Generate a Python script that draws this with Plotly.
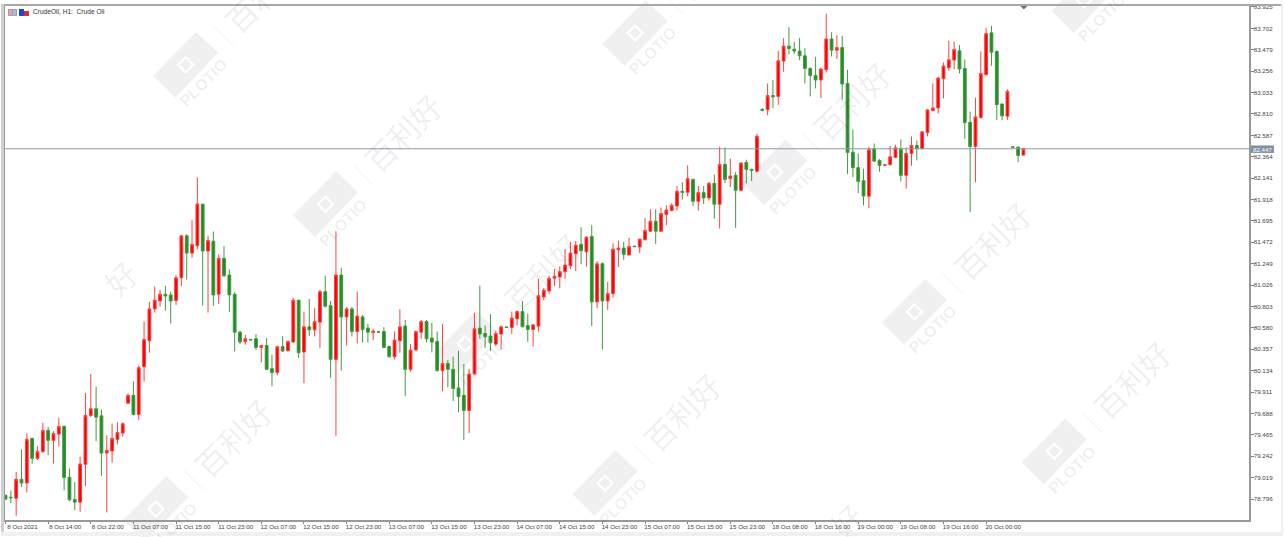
import plotly.graph_objects as go

opens = [
78.837,78.815,78.805,79.003,78.964,79.428,79.221,79.290,79.512,79.408,
79.473,79.553,79.023,78.792,78.764,79.158,79.667,79.737,79.664,79.276,
79.297,79.418,79.484,79.795,79.878,79.678,80.176,80.446,80.778,80.861,
80.931,80.924,80.865,81.103,81.540,81.360,81.436,81.869,81.381,81.484,
80.931,81.305,81.131,80.931,80.536,80.436,80.460,80.467,80.376,80.397,
80.155,80.114,80.384,80.342,80.433,80.869,80.329,80.591,80.560,80.640,
80.958,80.813,80.252,81.131,80.695,80.778,80.543,80.695,80.578,80.532,
80.540,80.543,80.387,80.280,80.446,80.599,80.148,80.350,80.536,80.646,
80.474,80.439,80.135,80.210,80.148,79.955,79.878,79.719,80.100,80.578,
80.522,80.495,80.412,80.516,80.590,80.584,80.675,80.750,80.605,80.563,
80.599,80.903,80.965,81.097,81.111,81.166,81.228,81.353,81.450,81.373,
81.533,80.851,81.249,80.861,80.937,81.394,81.412,81.339,81.432,81.422,
81.498,81.588,81.692,81.588,81.762,81.803,81.851,82.004,81.993,82.128,
81.900,81.990,81.934,82.087,81.869,82.284,82.136,82.170,82.014,82.305,
82.232,82.214,82.858,82.855,83.001,82.993,83.361,83.517,83.485,83.465,
83.416,83.284,83.211,83.164,83.271,83.592,83.475,83.502,83.128,82.412,
82.250,82.115,81.952,82.447,82.326,82.274,82.281,82.357,82.447,82.170,
82.398,82.481,82.447,82.616,82.845,82.873,83.177,83.291,83.371,83.468,
83.284,82.723,82.471,82.772,83.219,83.655,83.461,82.914,82.786,82.467,
82.464,82.381]

closes = [
78.795,78.810,79.003,78.964,79.418,79.221,79.293,79.512,79.408,79.480,
79.553,79.020,78.788,78.764,79.162,79.667,79.737,79.650,79.276,79.304,
79.428,79.491,79.581,79.878,79.678,80.166,80.460,80.778,80.869,80.931,
80.913,80.861,81.103,81.540,81.360,81.450,81.872,81.381,81.492,80.924,
81.305,81.124,80.924,80.536,80.433,80.467,80.455,80.376,80.397,80.148,
80.114,80.384,80.339,80.439,80.869,80.321,80.591,80.560,80.646,80.958,
80.806,80.252,81.131,80.695,80.778,80.543,80.703,80.563,80.536,80.547,
80.535,80.376,80.280,80.453,80.591,80.148,80.350,80.543,80.646,80.467,
80.433,80.135,80.210,80.148,79.948,79.865,79.719,80.100,80.571,80.516,
80.488,80.425,80.522,80.591,80.585,80.682,80.750,80.591,80.563,80.612,
80.916,80.973,81.097,81.118,81.166,81.235,81.360,81.443,81.384,81.526,
80.851,81.249,80.861,80.937,81.401,81.412,81.346,81.429,81.427,81.505,
81.596,81.692,81.588,81.772,81.809,81.858,82.004,81.993,82.136,81.900,
81.990,81.934,82.087,81.869,82.284,82.128,82.163,82.014,82.298,82.232,
82.222,82.578,82.848,83.001,82.990,83.364,83.517,83.492,83.465,83.416,
83.284,83.211,83.164,83.278,83.592,83.475,83.502,83.122,82.409,82.250,
82.107,81.955,82.440,82.318,82.274,82.281,82.364,82.457,82.170,82.398,
82.481,82.447,82.624,82.852,82.873,83.184,83.309,83.374,83.481,83.278,
82.720,82.471,82.779,83.232,83.647,83.454,82.907,82.790,83.045,82.462,
82.377,82.447]

highs = [
78.837,78.885,79.078,79.314,79.480,79.436,79.348,79.591,79.550,79.504,
79.643,79.563,79.114,78.975,79.238,79.903,80.100,79.968,79.730,79.460,
79.584,79.598,79.595,79.896,80.023,80.190,80.646,80.851,81.010,80.976,
81.020,80.958,81.131,81.547,81.557,81.703,82.149,81.876,81.540,81.585,
81.346,81.433,81.191,80.952,80.550,80.508,80.460,80.516,80.405,80.474,
80.301,80.394,80.495,80.446,80.893,80.872,80.750,80.882,80.786,80.976,
81.124,80.861,81.588,81.207,80.799,80.799,80.958,80.716,80.623,80.571,
80.540,80.588,80.394,80.543,80.775,80.664,80.412,80.550,80.664,80.664,
80.633,80.543,80.619,80.246,80.280,80.342,80.204,80.155,80.737,81.020,
80.605,80.723,80.550,80.605,80.590,80.750,80.761,80.861,80.730,80.619,
81.090,80.996,81.124,81.194,81.222,81.401,81.477,81.484,81.630,81.533,
81.651,81.277,81.263,81.062,81.461,81.492,81.477,81.519,81.432,81.512,
81.726,81.817,81.817,81.834,81.858,81.879,82.059,82.097,82.274,82.136,
82.059,82.059,82.100,82.177,82.468,82.461,82.343,82.204,82.308,82.333,
82.239,82.603,82.869,83.128,83.164,83.468,83.600,83.714,83.561,83.600,
83.496,83.294,83.405,83.294,83.855,83.662,83.631,83.624,83.271,82.647,
82.398,82.239,82.468,82.502,82.339,82.284,82.478,82.489,82.544,82.461,
82.575,82.533,82.630,82.862,83.128,83.198,83.346,83.572,83.564,83.527,
83.377,82.834,82.980,83.461,83.704,83.727,83.475,82.917,83.066,82.467,
82.471,82.457]

lows = [
78.795,78.753,78.622,78.923,78.865,79.166,79.203,79.280,79.255,79.166,
79.345,78.888,78.774,78.681,78.663,78.933,79.650,79.400,79.037,78.657,
79.176,79.366,79.446,79.792,79.667,79.618,80.020,80.321,80.740,80.802,
80.761,80.626,80.820,81.017,81.083,81.311,81.401,80.813,80.740,80.809,
80.830,81.108,80.744,80.335,80.412,80.405,80.455,80.350,80.221,80.142,
79.971,80.086,80.332,80.335,80.422,80.266,80.003,80.495,80.491,80.370,
80.792,80.059,79.452,80.135,80.397,80.491,80.418,80.428,80.428,80.453,
80.535,80.370,80.273,80.252,80.321,79.872,80.124,80.342,80.467,80.428,
80.325,80.124,79.920,79.961,79.816,79.702,79.411,79.484,80.093,80.467,
80.370,80.339,80.394,80.356,80.585,80.516,80.605,80.588,80.436,80.387,
80.543,80.869,80.934,81.017,80.993,81.090,81.194,81.173,81.243,81.218,
80.599,80.786,80.356,80.768,80.896,81.214,81.290,81.339,81.427,81.360,
81.492,81.581,81.456,81.581,81.651,81.796,81.803,81.917,81.949,81.851,
81.803,81.872,81.907,81.720,81.616,82.090,82.048,81.623,82.011,82.084,
82.111,82.198,82.837,82.796,82.869,82.904,83.250,83.429,83.434,83.371,
83.128,82.993,83.076,82.977,83.242,83.409,83.385,82.959,82.183,82.152,
81.986,81.858,81.827,82.315,82.208,82.266,82.274,82.354,82.107,82.032,
82.270,82.326,82.443,82.575,82.842,82.814,82.972,83.260,83.274,83.232,
82.551,81.786,82.097,82.762,83.211,83.312,82.748,82.744,82.748,82.462,
82.308,82.377]

time_labels = ["8 Oct 2021","8 Oct 14:00","8 Oct 22:00","11 Oct 07:00","11 Oct 15:00","11 Oct 23:00",
               "12 Oct 07:00","12 Oct 15:00","12 Oct 23:00","13 Oct 07:00","13 Oct 15:00","13 Oct 23:00",
               "14 Oct 07:00","14 Oct 15:00","14 Oct 23:00","15 Oct 07:00","15 Oct 15:00","15 Oct 23:00",
               "18 Oct 08:00","18 Oct 16:00","19 Oct 00:00","19 Oct 08:00","19 Oct 16:00","20 Oct 00:00"]
price_ticks = [83.925,83.702,83.479,83.256,83.033,82.810,82.587,82.364,82.141,81.918,81.695,81.472,
               81.249,81.026,80.803,80.580,80.357,80.134,79.911,79.688,79.465,79.242,79.019,78.796]
last_price = 82.447
title_text = "CrudeOil, H1:  Crude Oil"

W, H = 1284, 537
L, R, T, B = 3, 1249, 4, 520
D = 1  # page offset of the drawn plot area


def px(x):
    return (x - D - L) / (R - L)


def py(y):
    return (B - (y - D)) / (B - T)


fig = go.Figure(go.Candlestick(
    x=list(range(len(opens))), open=opens, high=highs, low=lows, close=closes,
    increasing=dict(line=dict(color="#ff4040", width=1), fillcolor="#ff0000"),
    decreasing=dict(line=dict(color="#409a40", width=1), fillcolor="#228b22"),
    whiskerwidth=0, hoverinfo="skip", showlegend=False,
))

shapes = []
annots = []
WM = "#f0f0f0"
WMT = "rgba(0,0,0,0.07)"


def poly(points, fill, layer="below"):
    d = "M " + " L ".join(f"{px(a):.5f},{py(b):.5f}" for a, b in points) + " Z"
    shapes.append(dict(type="path", xref="paper", yref="paper", path=d, fillcolor=fill,
                       line=dict(width=0), layer=layer))


def text(x, y, s, size, color, angle=0, family="Liberation Sans", anchor="center", bold=False):
    annots.append(dict(xref="paper", yref="paper", x=px(x), y=py(y), text=f"<b>{s}</b>" if bold else s,
                       showarrow=False, textangle=angle, xanchor=anchor, yanchor="middle",
                       font=dict(size=size, color=color, family=family)))


def watermark(cx, cy):
    poly([(cx + 10.5, cy - 33), (cx + 32.5, cy - 12), (cx - 10.5, cy + 33), (cx - 32.5, cy + 11)], WM)
    poly([(cx, cy - 9), (cx + 9, cy), (cx, cy + 9), (cx - 9, cy)], "#ffffff")
    poly([(cx, cy - 6), (cx + 6, cy), (cx, cy + 6), (cx - 6, cy)], WM)
    text(cx + 18, cy + 18, "PLOTIO", 16, WMT, angle=-45, bold=True)
    shapes.append(dict(type="line", xref="paper", yref="paper", layer="below",
                       x0=px(cx + 28), y0=py(cy - 39), x1=px(cx + 48), y1=py(cy - 19),
                       line=dict(color=WM, width=1)))
    text(cx + 77, cy - 72, "百利好", 31, WMT, angle=-45, family="Noto Sans CJK SC")


for c in [(185, 64), (635, 32), (325, 204), (775, 172), (915, 312), (1055, 452),
          (465, 344), (605, 484), (155, 510), (1085, -1)]:
    watermark(*c)
text(120, 278, "好", 31, WMT, angle=-45, family="Noto Sans CJK SC")
text(847, 522, "好", 31, WMT, angle=-45, family="Noto Sans CJK SC")

# current price line and label
shapes.append(dict(type="line", xref="paper", yref="y", x0=0, x1=1, y0=last_price, y1=last_price,
                   line=dict(color="#8d9bae", width=1), layer="above"))
shapes.append(dict(type="rect", xref="paper", yref="paper", x0=px(1252), x1=px(1275), y0=py(145), y1=py(152.5),
                   fillcolor="#7f8fa6", line=dict(width=0)))
text(1263.5, 148.8, f"{last_price:.3f}", 6.2, "#ffffff")

# shift marker
poly([(1021, 5), (1028, 5), (1024.5, 8.5)], "#707070", layer="above")

# window frame bands
shapes.append(dict(type="rect", xref="paper", yref="paper", x0=px(0), x1=px(W), y0=py(3), y1=py(5),
                   fillcolor="#a8a8a8", line=dict(width=0)))
shapes.append(dict(type="rect", xref="paper", yref="paper", x0=px(0), x1=px(3), y0=py(3), y1=py(H),
                   fillcolor="#d0d0d0", line=dict(width=0)))
shapes.append(dict(type="rect", xref="paper", yref="paper", x0=px(0), x1=px(W), y0=py(533), y1=py(H),
                   fillcolor="#f0f0f0", line=dict(width=0)))
shapes.append(dict(type="rect", xref="paper", yref="paper", x0=px(1282), x1=px(W), y0=py(3), y1=py(H),
                   fillcolor="#f0f0f0", line=dict(width=0)))

# title icons
poly([(7, 8), (16, 8), (16, 15), (7, 15)], "#a0a0b0", layer="above")
poly([(8, 9), (11, 9), (11, 14), (8, 14)], "#f0a0a0", layer="above")
poly([(12, 9), (15, 9), (15, 14), (12, 14)], "#a0c0f0", layer="above")
poly([(18, 8), (23, 8), (23, 15), (18, 15)], "#2040d0", layer="above")
poly([(23, 10), (28, 10), (28, 15), (23, 15)], "#d03030", layer="above")
text(30, 11, title_text, 6.6, "#333333", anchor="left")

axis_font = dict(size=6.2, color="#444444", family="Liberation Sans")
fig.update_layout(
    width=W, height=H, autosize=False,
    margin=dict(l=L, r=W - R, t=T, b=H - B, pad=0),
    paper_bgcolor="#ffffff", plot_bgcolor="rgba(0,0,0,0)",
    showlegend=False, hovermode=False, dragmode=False, boxgap=0.25,
    shapes=shapes, annotations=annots,
    xaxis=dict(
        range=[-0.094, 233.326], rangeslider=dict(visible=False), showgrid=False, zeroline=False,
        tickmode="array", tickvals=[i * 8 for i in range(len(time_labels))], ticktext=time_labels,
        ticks="outside", ticklen=2, tickcolor="#808080", tickangle=0, tickfont=axis_font,
        ticklabelshift=17, ticklabelstandoff=-2,
        showline=True, linecolor="#999999", linewidth=1.5, mirror=True,
    ),
    yaxis=dict(
        side="right", range=[78.578, 83.935], showgrid=False, zeroline=False,
        tickmode="array", tickvals=price_ticks, ticktext=[f"{v:.3f}" for v in price_ticks],
        ticks="outside", ticklen=3, tickcolor="#808080", tickfont=axis_font, ticklabelstandoff=-1,
        showline=True, linecolor="#999999", linewidth=1.5, mirror=True,
    ),
)

fig.write_html("out.html", config={"staticPlot": True},
               post_script="document.body.style.margin='0';document.body.style.overflow='hidden';")
